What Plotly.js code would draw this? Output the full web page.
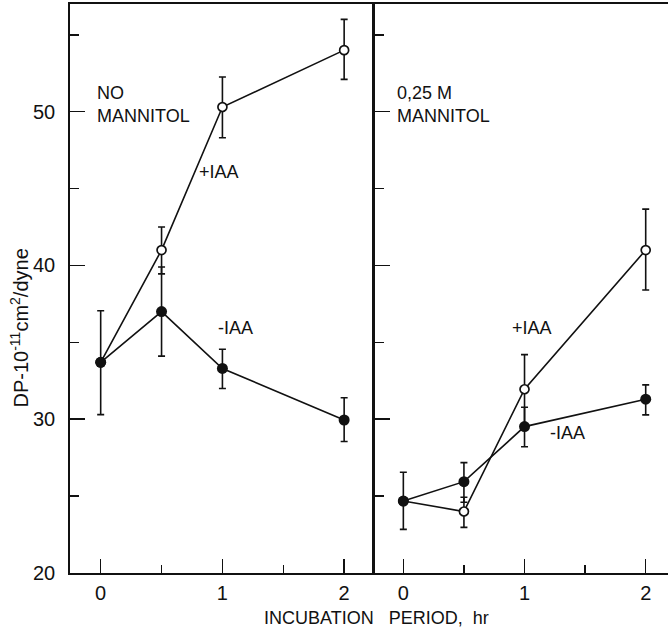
<!DOCTYPE html>
<html>
<head>
<meta charset="utf-8">
<script src="https://cdn.plot.ly/plotly-3.0.1.min.js"></script>
<style>html,body{margin:0;padding:0;background:#fff;}#chart{width:668px;height:629px;}</style>
</head>
<body>
<div id="chart"></div>
<script>
// Incubation times (hr)
const hours = [0, 0.5, 1, 2];

// NO MANNITOL panel
const noMan_plusIAA = [33.7, 41.0, 50.3, 54.0];
const noMan_plusIAA_errUp = [null, 1.5, 1.95, 2.0];
const noMan_plusIAA_errDn = [null, 1.55, 2.0, 1.9];
const noMan_minusIAA = [33.7, 37.0, 33.3, 29.95];
const noMan_minusIAA_errUp = [3.35, 2.9, 1.25, 1.45];
const noMan_minusIAA_errDn = [3.4, 2.9, 1.3, 1.4];

// 0.25 M MANNITOL panel
const man_plusIAA = [24.68, 24.0, 31.95, 41.0];
const man_plusIAA_errUp = [null, 0.93, 2.25, 2.66];
const man_plusIAA_errDn = [null, 1.03, 2.4, 2.6];
const man_minusIAA = [24.68, 25.94, 29.52, 31.3];
const man_minusIAA_errUp = [1.87, 1.24, 1.26, 0.93];
const man_minusIAA_errDn = [1.84, 1.34, 1.31, 1.02];

const yTickVals = [20, 30, 40, 50];
const xTickVals = [0, 1, 2];

const INK = '#111';
const FONT = 'Liberation Sans, Arial, sans-serif';

function openTrace(y, up, dn, xa, ya) {
  return {
    x: hours, y: y, xaxis: xa, yaxis: ya, type: 'scatter', mode: 'lines+markers',
    line: {color: INK, width: 1.6},
    marker: {symbol: 'circle', size: 9, color: '#fff', line: {color: INK, width: 1.7}},
    error_y: {type: 'data', symmetric: false, array: up, arrayminus: dn, color: INK, thickness: 1.6, width: 3.5},
    showlegend: false, hoverinfo: 'skip'
  };
}
function filledTrace(y, up, dn, xa, ya) {
  return {
    x: hours, y: y, xaxis: xa, yaxis: ya, type: 'scatter', mode: 'lines+markers',
    line: {color: INK, width: 1.6},
    marker: {symbol: 'circle', size: 11, color: INK},
    error_y: {type: 'data', symmetric: false, array: up, arrayminus: dn, color: INK, thickness: 1.6, width: 3.5},
    showlegend: false, hoverinfo: 'skip'
  };
}

const data = [
  openTrace(noMan_plusIAA, noMan_plusIAA_errUp, noMan_plusIAA_errDn, 'x', 'y'),
  filledTrace(noMan_minusIAA, noMan_minusIAA_errUp, noMan_minusIAA_errDn, 'x', 'y'),
  openTrace(man_plusIAA, man_plusIAA_errUp, man_plusIAA_errDn, 'x2', 'y2'),
  filledTrace(man_minusIAA, man_minusIAA_errUp, man_minusIAA_errDn, 'x2', 'y2')
];

const xCommon = {
  tickvals: xTickVals, ticks: 'inside', ticklen: 14, tickwidth: 1.5, tickcolor: INK,
  minor: {ticks: 'inside', ticklen: 8, tickwidth: 1.5, tickcolor: INK, dtick: 0.5, tick0: 0},
  showline: true, linecolor: INK, linewidth: 1.8, mirror: true,
  showgrid: false, zeroline: false, ticklabelstandoff: 1,
  tickfont: {family: FONT, size: 20, color: INK}
};
const yCommon = {
  range: [20, 57.0], tickvals: yTickVals, ticks: 'inside', ticklen: 15, tickwidth: 1.5, tickcolor: INK,
  minor: {ticks: 'inside', ticklen: 9, tickwidth: 1.5, tickcolor: INK, dtick: 5, tick0: 0},
  showline: true, linecolor: INK, linewidth: 1.8,
  showgrid: false, zeroline: false, ticklabelstandoff: 9,
  tickfont: {family: FONT, size: 20, color: INK}
};

const layout = {
  width: 668, height: 629,
  margin: {l: 70, r: 0, t: 4, b: 56},
  paper_bgcolor: '#fff', plot_bgcolor: '#fff',
  font: {family: FONT, color: INK},
  xaxis: Object.assign({}, xCommon, {domain: [0, 0.5067], range: [-0.252, 2.237], anchor: 'y'}),
  xaxis2: Object.assign({}, xCommon, {domain: [0.5084, 1], range: [-0.242, 2.184], anchor: 'y2'}),
  yaxis: Object.assign({}, yCommon, {anchor: 'x', mirror: true}),
  yaxis2: Object.assign({}, yCommon, {anchor: 'x2', showticklabels: false, ticklen: 16, minor: {ticks: 'inside', ticklen: 10, tickwidth: 1.5, tickcolor: INK, dtick: 5, tick0: 0}}),
  annotations: [
    {text: 'NO<br>MANNITOL', xref: 'x', yref: 'y', x: -0.047, y: 52.0, xanchor: 'left', yanchor: 'top', align: 'left', showarrow: false, font: {family: FONT, size: 18, color: INK}},
    {text: '+IAA', xref: 'x', yref: 'y', x: 0.79, y: 46.1, xanchor: 'left', yanchor: 'middle', showarrow: false, font: {family: FONT, size: 18, color: INK}},
    {text: '-IAA', xref: 'x', yref: 'y', x: 0.95, y: 35.9, xanchor: 'left', yanchor: 'middle', showarrow: false, font: {family: FONT, size: 18, color: INK}},
    {text: '0,25 M<br>MANNITOL', xref: 'x2', yref: 'y2', x: -0.07, y: 52.0, xanchor: 'left', yanchor: 'top', align: 'left', showarrow: false, font: {family: FONT, size: 18, color: INK}},
    {text: '+IAA', xref: 'x2', yref: 'y2', x: 0.88, y: 35.9, xanchor: 'left', yanchor: 'middle', showarrow: false, font: {family: FONT, size: 18, color: INK}},
    {text: '-IAA', xref: 'x2', yref: 'y2', x: 1.19, y: 29.1, xanchor: 'left', yanchor: 'middle', showarrow: false, font: {family: FONT, size: 18, color: INK}},
    {text: 'INCUBATION\u00A0\u00A0\u00A0PERIOD,\u00A0\u00A0hr', xref: 'paper', yref: 'paper', x: 0.513, y: -0.079, xanchor: 'center', yanchor: 'middle', showarrow: false, font: {family: FONT, size: 18, color: INK}},
    {text: 'DP-10<sup>-11</sup>cm<sup>2</sup>/dyne', xref: 'paper', yref: 'paper', x: -0.085, y: 0.43, xanchor: 'center', yanchor: 'middle', textangle: -90, showarrow: false, font: {family: FONT, size: 20, color: INK}}
  ]
};

Plotly.newPlot('chart', data, layout, {displayModeBar: false, staticPlot: true});
</script>
</body>
</html>
